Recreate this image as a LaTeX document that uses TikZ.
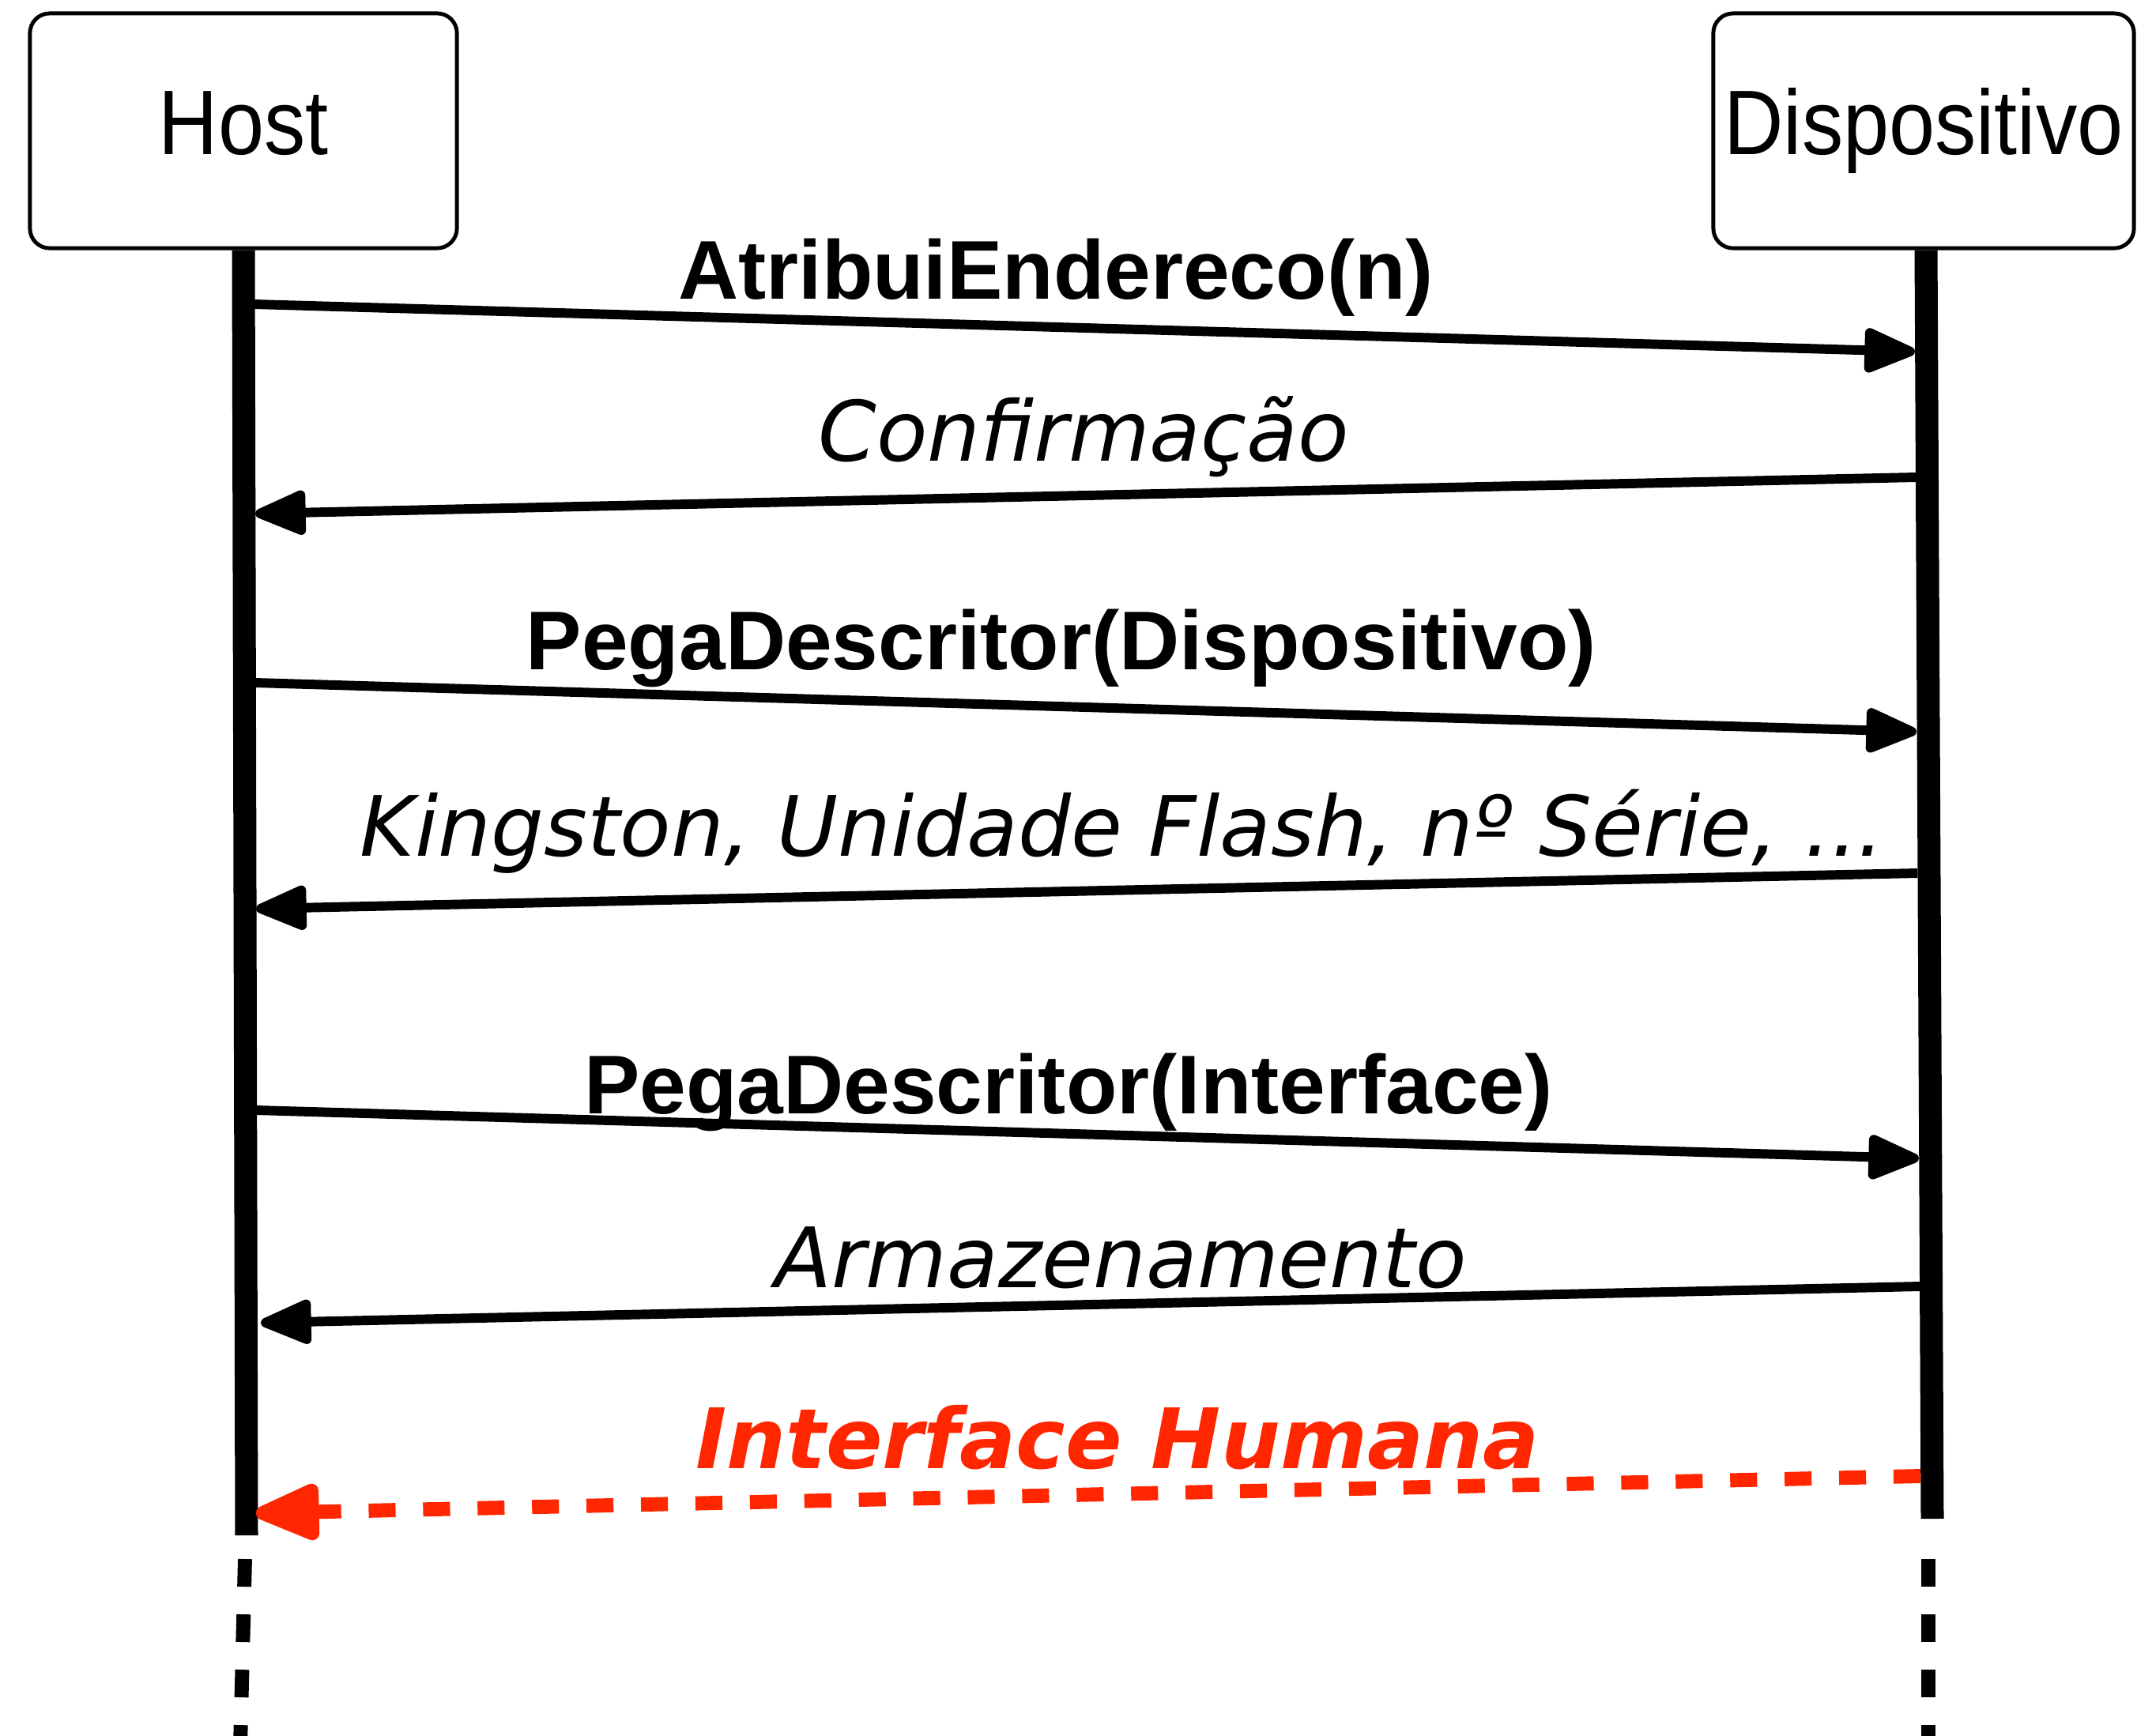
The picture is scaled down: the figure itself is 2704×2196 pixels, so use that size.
\documentclass[tikz,border=0pt]{standalone}
\usepackage{fontspec}
\setmainfont{Liberation Sans}
\newfontfamily\boxfont[FakeStretch=0.9]{Liberation Sans}
\newfontfamily\replyfont{DejaVu Sans}[ItalicFont={DejaVu Sans Oblique},BoldItalicFont={DejaVu Sans Bold Oblique}]
\usetikzlibrary{arrows.meta}
\definecolor{alertred}{RGB}{255,38,0}
\begin{document}
\begin{tikzpicture}[x=0.01cm, y=-0.01cm,
  actor/.style={draw, line width=1.4pt, rounded corners=0.25cm, fill=white,
    inner sep=0pt, font=\boxfont\fontsize{33}{40}\selectfont,
    text height=23.8pt, text depth=6.9pt},
  lifeline/.style={line width=8.25pt, line cap=butt},
  lifetail/.style={line width=5.1pt, dash pattern=on 9.96pt off 9.96pt},
  msg/.style={line width=3.4pt, -{Triangle[length=21pt,width=16.8pt,round]}},
  alertmsg/.style={alertred, line width=5.1pt, dash pattern=on 9.7pt off 9.9pt,
    -{Triangle[length=27pt,width=21.5pt,round]}},
  calltext/.style={anchor=base, inner sep=0pt, font=\fontsize{30}{36}\selectfont\bfseries},
  replytext/.style={anchor=base, inner sep=0pt, font=\replyfont\fontsize{30}{36}\selectfont\itshape},
  alerttext/.style={anchor=base, inner sep=0pt, text=alertred,
    font=\replyfont\fontsize{30}{36}\selectfont\bfseries\itshape}]

\useasboundingbox (0,0) rectangle (2704,2196);

% participants
\node[actor, minimum width=5.40cm, minimum height=2.97cm] (host) at (308,165.5) {Host};
\node[actor, minimum width=5.32cm, minimum height=2.97cm] (dev) at (2434,165.5) {Dispositivo};

% lifeline ends
\coordinate (hostEnd) at (312,1943);
\coordinate (devEnd) at (2445,1922);
\coordinate (hostTailTop) at (310,1973);
\coordinate (hostTailEnd) at (304,2210);
\coordinate (devTailTop) at (2440,1973);
\coordinate (devTailEnd) at (2440,2210);

\draw[lifeline] (host.south) -- (hostEnd);
\draw[lifeline] ([xshift=0.03cm]dev.south) -- (devEnd);
\draw[lifetail] (hostTailTop) -- (hostTailEnd);
\draw[lifetail] (devTailTop) -- (devTailEnd);

% message end points on the lifelines
\coordinate (h1) at (322,385);   \coordinate (d1) at (2423,445);
\coordinate (d2) at (2424,604);  \coordinate (h2) at (323,650);
\coordinate (h3) at (323,864);   \coordinate (d3) at (2425,926);
\coordinate (d4) at (2426,1105); \coordinate (h4) at (324,1150);
\coordinate (h5) at (325,1405);  \coordinate (d5) at (2428,1466);
\coordinate (d6) at (2429,1628); \coordinate (h6) at (330,1674);
\coordinate (d7) at (2430,1868); \coordinate (h7) at (324,1915);

% messages
\draw[msg] (h1) -- (d1);
\draw[msg] (d2) -- (h2);
\draw[msg] (h3) -- (d3);
\draw[msg] (d4) -- (h4);
\draw[msg] (h5) -- (d5);
\draw[msg] (d6) -- (h6);
\draw[alertmsg] (d7) -- (h7);

% message labels
\node[calltext] (l1) at (1336,378) {AtribuiEndereco(n)};
\node[replytext] (l2) at (1371,583) {Confirmação};
\node[calltext] (l3) at (1343,847) {PegaDescritor(Dispositivo)};
\node[replytext] (l4) at (1420,1083) {Kingston, Unidade Flash, nº Série, ...};
\node[calltext] (l5) at (1352,1409) {PegaDescritor(Interface)};
\node[replytext] (l6) at (1418,1629) {Armazenamento};
\node[alerttext] (l7) at (1414,1858) {Interface Humana};
\end{tikzpicture}
\end{document}
